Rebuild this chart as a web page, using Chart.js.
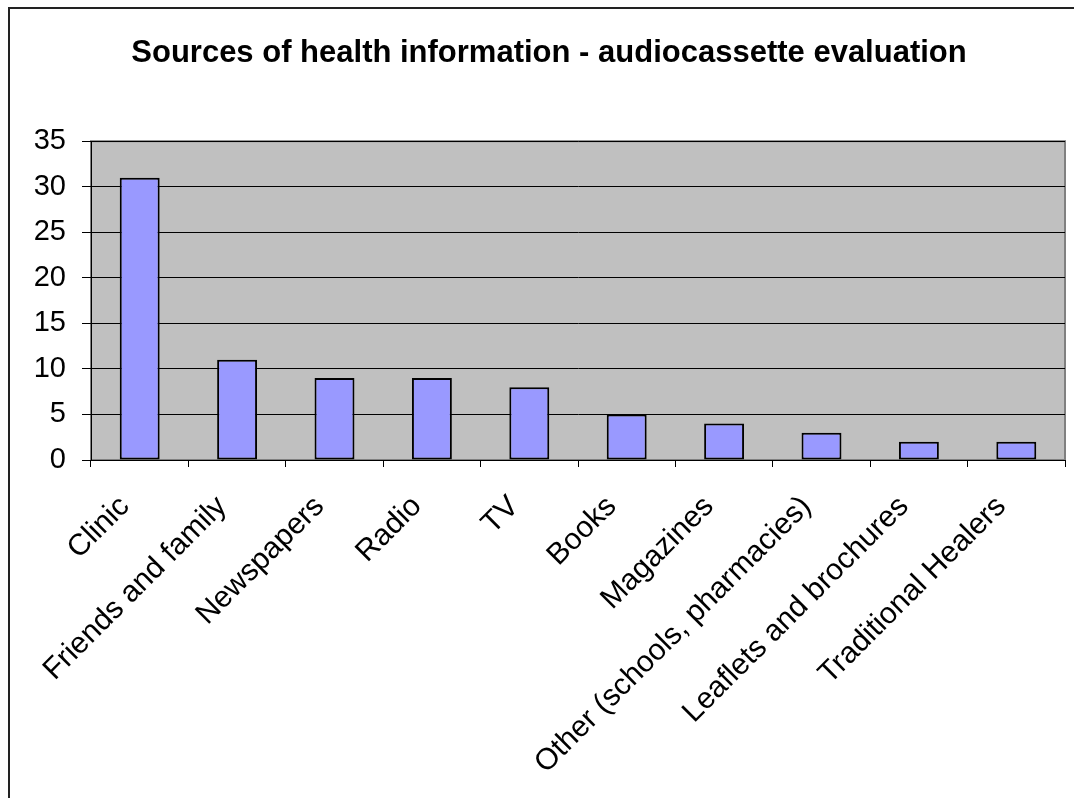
<!DOCTYPE html>
<html>
<head>
<meta charset="utf-8">
<script src="https://cdn.jsdelivr.net/npm/chart.js@4/dist/chart.umd.min.js"></script>
<style>
  html, body { margin: 0; padding: 0; background: #fff; }
  #wrap { width: 1074px; height: 798px; position: relative; }
</style>
</head>
<body>
<div id="wrap"><canvas id="c" width="1074" height="798"></canvas></div>
<script>
const categories = [
  'Clinic', 'Friends and family', 'Newspapers', 'Radio', 'TV', 'Books',
  'Magazines', 'Other (schools, pharmacies)', 'Leaflets and brochures', 'Traditional Healers'
];
const counts = [31, 11, 9, 9, 8, 5, 4, 3, 2, 2];
const yTicks = [0, 5, 10, 15, 20, 25, 30, 35];
const chartTitle = 'Sources of health information - audiocassette evaluation';

const FONT = '"Liberation Sans", Arial, sans-serif';

// gray plot background, gray frame and the outer chart border
const frame = {
  id: 'frame',
  beforeDraw(chart) {
    const { ctx, chartArea: a } = chart;
    ctx.save();
    ctx.fillStyle = '#fff';
    ctx.fillRect(0, 0, chart.width, chart.height);
    ctx.fillStyle = '#C0C0C0';
    ctx.fillRect(a.left, a.top, a.right - a.left, a.bottom - a.top);
    ctx.strokeStyle = '#808080';
    ctx.lineWidth = 2;
    ctx.strokeRect(a.left, a.top, a.right - a.left, a.bottom - a.top);
    ctx.strokeStyle = '#222';
    ctx.lineWidth = 2;
    ctx.beginPath();
    ctx.moveTo(9, chart.height);
    ctx.lineTo(9, 8);
    ctx.lineTo(chart.width, 8);
    ctx.stroke();
    ctx.restore();
  }
};

new Chart(document.getElementById('c'), {
  type: 'bar',
  data: {
    labels: categories,
    datasets: [{
      data: counts,
      backgroundColor: '#9999FF',
      borderColor: '#000',
      borderWidth: 2,
      borderSkipped: false,
      barPercentage: 0.41,
      categoryPercentage: 1.0
    }]
  },
  options: {
    responsive: false,
    animation: false,
    devicePixelRatio: 1,
    layout: { padding: { left: 33, right: 9, top: 0, bottom: 0 } },
    plugins: {
      legend: { display: false },
      tooltip: { enabled: false },
      title: {
        display: true,
        text: chartTitle,
        color: '#000',
        font: { family: FONT, size: 31, weight: 'bold', lineHeight: 1.2 },
        padding: { top: 35, bottom: 69 }
      }
    },
    scales: {
      x: {
        offset: true,
        grid: {
          offset: true,
          drawOnChartArea: false,
          drawTicks: true,
          tickLength: 7,
          color: '#000',
          lineWidth: 1
        },
        border: { display: true, color: '#000', width: 1 },
        ticks: {
          color: '#000',
          font: { family: FONT, size: 30 },
          maxRotation: 45,
          minRotation: 45,
          autoSkip: false,
          padding: 22,
          labelOffset: -15
        },
        afterFit(scale) { scale.height = 338; }
      },
      y: {
        min: 0,
        max: 35,
        afterBuildTicks(scale) { scale.ticks = yTicks.map(v => ({ value: v })); },
        grid: {
          color: '#000',
          lineWidth: 1,
          tickLength: 9,
          drawTicks: true
        },
        border: { display: true, color: '#000', width: 1 },
        ticks: {
          color: '#000',
          font: { family: FONT, size: 29 },
          padding: 16
        },
        afterFit(scale) { scale.width = 58; }
      }
    }
  },
  plugins: [frame]
});
</script>
</body>
</html>
